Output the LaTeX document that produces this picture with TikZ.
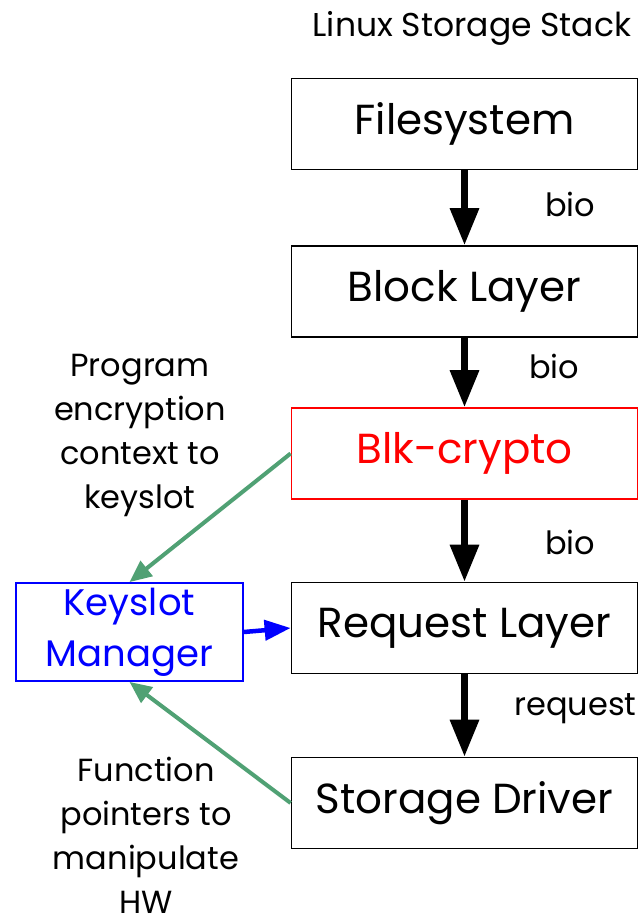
\documentclass[tikz,border=0pt]{standalone}
\usepackage{fontspec}
\setmainfont{Poppins}
\usetikzlibrary{arrows.meta}
\definecolor{linkgreen}{RGB}{80,161,116}
\tikzset{
  layer/.style={draw=black, line width=1.8pt, minimum width=346pt, minimum height=91pt,
    inner sep=0pt, font=\fontsize{42}{42}\selectfont},
  flow/.style={line width=6.5pt, -{Triangle[length=37pt,width=28pt]}},
  hook/.style={draw=linkgreen, line width=4pt, -{Triangle[length=22pt,width=19pt]}},
  call/.style={draw=blue, line width=4.5pt, -{Triangle[length=26pt,width=20pt]}},
  tag/.style={inner sep=0pt, anchor=base, font=\fontsize{32}{32}\selectfont},
  note/.style={inner sep=0pt, align=center, anchor=base, font=\fontsize{32}{44}\selectfont}
}
\begin{document}
\begin{tikzpicture}[x=1pt,y=-1pt]
\useasboundingbox[fill=white] (0,0) rectangle (642,917);

\node[tag, font=\fontsize{33}{33}\selectfont] (title) at (472,37) {Linux Storage Stack};

% the storage stack, top to bottom
\node[layer] (fs) at (464.5,124) {Filesystem};
\node[layer] (blk) at (464.5,291.5) {Block Layer};
\node[layer, draw=red, text=red] (crypto) at (464.5,453.5) {Blk-crypto};
\node[layer] (req) at (464.5,628) {Request Layer};
\node[layer] (drv) at (464.5,803) {Storage Driver};
\node[draw=blue, text=blue, line width=1.8pt, minimum width=227pt, minimum height=98pt,
  inner sep=0pt, align=center, font=\fontsize{37}{51}\selectfont] (ksm) at (129.5,632) {Keyslot\\Manager};

\draw[flow] (fs) -- (blk);
\draw[flow] (blk) -- (crypto);
\draw[flow] (crypto) -- (req);
\draw[flow] (req) -- (drv);

\node[tag] (bio1) at (570,217) {bio};
\node[tag] (bio2) at (554,378) {bio};
\node[tag] (bio3) at (570,554) {bio};
\node[tag] (rq) at (575.5,715) {request};

% keyslot manager links
\draw[hook] (crypto.west) -- (ksm.north);
\draw[hook] (drv.west) -- (ksm.south);
\draw[call] (ksm.east) -- (req.west);

\node[note] (prog) at (140,508) {Program\\encryption\\context to\\keyslot};
\node[note] (func) at (146,913) {Function\\pointers to\\manipulate\\HW};
\end{tikzpicture}
\end{document}
